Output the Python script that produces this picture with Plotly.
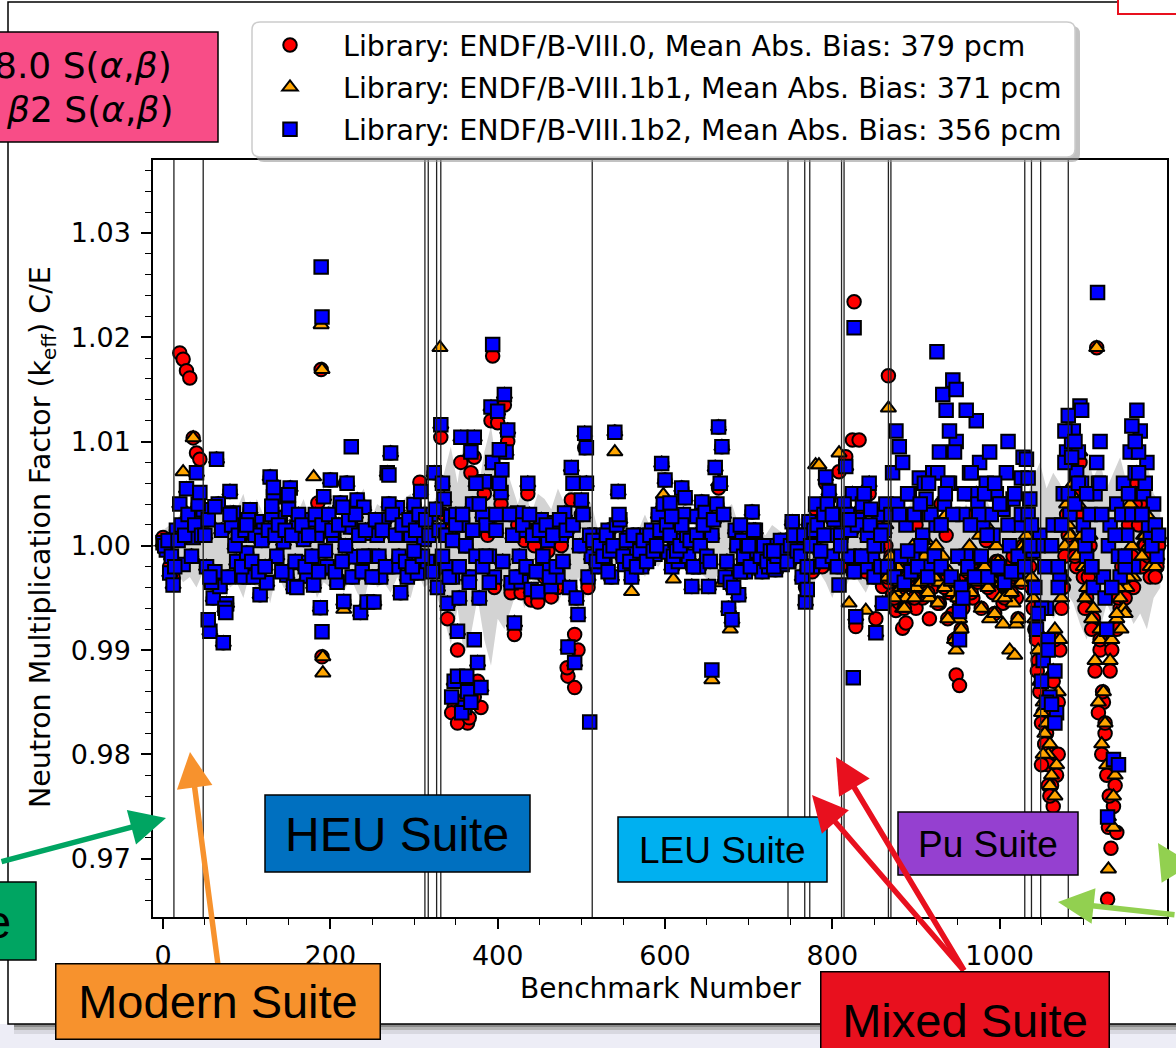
import numpy as np
import plotly.graph_objects as go

W, H = 1176, 1048
STEP = 4          # benchmark spacing of the read-off grids
CORE_OFFSET = 2   # second (core) grid sits between the first
GRAY_STEP = 8

# ---------------- data: C/E deviation from 1.0 in pcm ----------------
SEG_START = {"a": 0, "b": 48, "c": 332, "d": 512, "e": 760, "f": 864, "g": 1032}

# ENDF/B-VIII.1b2 (blue squares) - outer readings
b2_a = [30, -40, -260, -375, 150, 400, -180, 546, 250, 80, 700, 300]
b2_b = [345, -200, -820, -500, 830, -390, -930, -555, 520, 315,
        -150, 100, -300, -70, 345, -300, 230, -470, 150, -355,
        660, 470, -100, 270, 40, -280, 555, -390, 180, -160,
        60, -290, 250, -375, 100, -595, 470, -200, 630, 100,
        -350, 410, -535, 600, 180, -105, 440, -640, 370, -540,
        120, -540, 100, -300, 250, 700, 890, -200, 365, -450,
        200, -300, 100, 395, -260, 520, 60, -150, 300, 700, -400]
b2_c = [1160, 450, -550, 280, -1300, -820, 1040, -1550, -1400, 900,
        1040, -1120, -1360, 615, 200, 1330, -300, 1290, 510, 1450,
        1110, -355, -740, 315, -345, 150, 600, -420, 100, -440,
        250, -200, 50, -390, 220, -300, 100, 315, -970, 750,
        -1120, -660, 440, 1080, -300]
b2_d = [-100, 100, -200, 50, -150, 150, -300, 1090, 520, 0,
        -180, 80, -300, -50, 100, -200, 0, -120, 150, -80,
        300, 790, 630, -60, -200, 50, -150, 555, 460, -100,
        -390, 280, -200, 420, 320, -390, 100, 750, 1140, 950,
        -300, -600, -710, 150, -470, 50, -250, -100, 325, 150,
        -150, -250, -100, -200, 0, -230, -100, -180, 50, -150, 230, -100]
b2_e = [60, -300, -540, 230, -200, 400, 100, -150, 660, 520,
        -100, 300, -375, 200, 760, -100, 500, -680, 250, 400,
        -200, 600, -100, -835, 300, -550]
b2_f = [400, -200, 700, 1100, 950, 800, 200, 500, -100, 300,
        650, 100, 450, -200, 700, 200, 900, 1450, 1300, 600,
        1590, 1000, -630, 300, -100, 700, 500, 1200, 800, 200,
        600, 900, 100, 500, -200, 350, 700, 0, 450, -250, 200, 850]
b2_g = [830, 450, -50, -800, 100, -1100, -600, -1450, 200, -1600,
        -300, 500, 900, 300, 1100, 700, 1340, 200, -100, 300,
        -400, 800, 1000, -300, -800, 200, -2050, 400, -300, 600,
        100, 900, -200, 1300, 1100, 500, 800, 100, 400, -100]

# ENDF/B-VIII.1b2 - core readings (between the outer ones)
b2c_a = [0, 50, -100, -200, 50, 200, 100, 300, -100, 200, 400, 100]
b2c_b = [100, 250, -350, -250, 400, 150, -600, -300, 200, 0,
         100, -200, 150, 250, -150, 100, -250, 50, -200, 150,
         300, 100, 200, -250, 150, 350, 100, -150, 300, 200,
         -200, 100, -100, 300, -250, 200, -50, 300, 150, -250,
         200, -150, 0, 250, -300, 300, 100, -250, 150, -100,
         -300, 250, -100, 150, -200, 400, 300, 100, -100, 200,
         -150, 250, -200, 150, 300, -100, 250, 100, -250, 350, 150]
b2c_c = [600, -200, 100, -300, 300, -500, 200, 0, -300, 400,
         600, -500, 300, 200, -100, 800, 150, 600, -150, 900,
         300, 100, -300, -100, 200, -200, 300, 100, -250, 150,
         -100, 200, -300, 100, -200, 250, -150, 150, -400, 200,
         -500, 0, 300, 600, 100]
b2c_d = [50, -150, 0, -100, 100, -50, 0, 200, 250, -100,
         50, -150, 100, -200, -50, 50, -150, 100, -50, 0,
         150, 400, 200, 100, -100, -50, 0, 300, 100, 50,
         -200, 100, 0, 200, -100, -150, 250, 400, 600, 300,
         -150, -350, -400, 0, -250, -100, 0, -200, 150, -50,
         -100, 0, -150, -50, -200, -100, 50, -50, -150, 0, 100, -50]
b2c_e = [-100, 100, -200, 0, 150, 200, -50, 300, 400, 100,
         250, -200, 100, 400, 300, 150, -250, 200, -100, 500,
         100, 350, -300, 0, -200, 150]
b2c_f = [-200, 300, -300, 400, -100, -350, 500, -250, 300, -200,
         0, 600, -300, 300, -100, 700, -200, 400, 600, -300,
         900, -100, -400, 500, -200, 700, -300, 400, -100, 500,
         -300, 300, 600, -200, 400, -350, 200, -250, 500, -100, 300, -200]
b2c_g = [300, 200, -400, 0, -600, -200, -900, 0, -1200, -400,
         200, 800, 500, 1000, 400, 900, 600, 0, 100, -200,
         500, 600, 300, -500, 0, -400, 100, -100, 300, -200,
         500, 300, 700, 900, 300, 600, 200, 0, 200, 100]

b2_extra_x = [189, 190, 190, 225, 270, 132, 130, 62, 44, 80, 150, 215, 100, 160, 240, 300, 56, 75, 54,
              334, 338, 342, 346, 350, 354, 358, 362, 366, 370, 374, 378, 382,
              345, 352, 357, 363, 368, 372, 394, 506, 490, 510, 402, 405, 386, 390, 398,
              656, 532, 620, 700, 730, 545, 606, 608, 690,
              826, 825, 770, 790, 800, 810, 820, 835, 845, 850, 858,
              925, 948, 940, 952, 956, 944, 930, 960, 1026, 880, 890, 975, 1000, 1010, 905, 915, 935, 965, 985,
              1117, 1129, 1142, 1050, 1056, 1062, 1066, 1058, 1046, 1078, 1082, 1086, 1090, 1094, 1098,
              1158, 1162, 1166, 1034, 1036, 1070, 1104, 1110, 1120, 1150, 1170]
b2_extra_pcm = [2675, 2195, -825, 950, 680, 560, 380, 375, 510, 300, 490, 370, 200, -400, -100, -50, -300, -640, -710,
                -100, 100, -300, 50, 200, -200, 300, 0, -350, 150, -100, 400, -200,
                -1450, -1250, -1600, -1250, -1500, -900, 1930, 940, 600, -1690, 920, 730, -100, -350, 300,
                -1190, -250, 200, 0, -50, 300, 410, 280, 200,
                2090, -1265, -420, 100, 300, 0, 250, -100, 200, 0, 100,
                1860, 1500, 1100, -900, -500, 300, 200, 1300, 650, 300, -50, 300, 400, 1000, 400, 600, 500, 200, 100,
                2430, -2600, -2100, -1300, -1500, -1520, -1700, -1000, -650, 1100, 1250, 850, 1000, 600, 1300,
                1150, 1000, 700, 650, 0, -200, 500, -200, 600, -100, 300]

# ENDF/B-VIII.0 (red circles)
r_a = [80, -40, -200, -300, 150, 1850, 1790, 1680, 1610, 1035, 890, 830]
r_b = b2_b
r_c = [1040, 300, -700, 150, -1550, -1000, 800, -1650, -1700, 700,
       850, -1300, -1550, 500, 100, 1200, -400, 1180, 400, 1350,
       1000, -450, -850, 200, -450, 50, 500, -520, 0, -540,
       150, -300, -50, -490, 120, -400, 0, 200, -1250, 440,
       -1360, -1000, 300, 940, -400]
r_d = b2_d
r_e = [60, -300, -400, 200, -250, 350, 100, -200, 600, 450,
       -150, 250, 710, 150, 855, -200, 1015, -775, 1015, 350,
       -250, 500, -200, -700, 250, -390]
r_f = [0, -350, -470, -620, -545, -790, -740, -345, -200, -600,
       -300, -500, -150, -700, -400, -200, -550, -300, 100, -450,
       -650, -1240, -1340, -600, -300, -200, -500, 300, -100, -350,
       50, -250, -450, -150, -300, -550, -200, -400, -100, -500, -200, 0]
r_g = [0, -200, -600, -900, -1400, -1600, -1800, -2000, -1300, -2200,
       -1000, -400, 300, 0, 500, -200, 800, -300, -500, 0,
       -700, 1900, -1000, -1500, -2200, -1200, -2500, -800, -600, -300,
       -100, 300, -400, 600, 400, 0, 200, -300, 100, -200]
rc_f = [-300, -100, -500, -200, -400, -600, -300, -150, -500, -250,
        -350, -100, -450, -250, -300, -550, -200, -400, -700, -350,
        -900, -500, -800, -400, -250, -450, -150, -350, -600, -200,
        -400, -300, -650, -150, -350, -500, -250, -450, -300, -700, -350, -200]
rc_g = [-100, -400, -800, -1100, -1700, -1900, -2100, -2300, -900, -1500,
        -600, -100, 100, 400, -100, 300, 0, -600, -300, -800,
        -1200, -1600, -2000, -1800, -2700, -1000, -2300, -500, -200, -500,
        200, -100, 400, 200, -200, 0, -100, 100, -300, 0]
r_extra_x = [189, 190, 218, 307, 185, 394, 483, 492, 345, 352, 358, 366, 372, 664, 598, 826, 810,
             867, 900, 930, 960, 1129, 1133, 1140, 1050, 1058, 1064, 1070, 1060, 1123, 1126, 1131, 1120, 1045, 1054]
r_extra_pcm = [1690, -1065, 600, 610, 410, 1820, -1170, -850, -1600, -1700, -1500, -1650, -1450, 555, 300, 2340, -200,
               1630, 200, 400, 300, -3390, -2900, -2750, -2100, -2300, -2500, -2000, -2400, -1400, -1700, -2400, -900, -1200, -1900]

# ENDF/B-VIII.1b1 (orange triangles)
o_a = [30, -40, -260, -375, 150, 400, 710, 546, 250, 1035, 700, 300]
o_b = b2_b
o_c = b2_c
o_d = b2_d
o_e = [60, -300, -540, 230, -200, 775, 775, -150, 660, 520,
       -100, 300, 890, 200, 760, -550, 500, -680, 250, 400,
       -620, 600, -100, -835, 300, -550]
o_f = [200, -200, -300, -450, -350, -600, -500, -200, 0, -400,
       -150, -300, 50, -500, -200, 0, -350, -100, 300, -250,
       -450, -1000, -700, -400, -150, 0, -300, 500, 100, -200,
       200, -700, -300, 0, -500, -750, -400, -1000, -550, -750, -300, 0]
o_g = [100, -100, -500, -800, -1300, -1500, -1700, -1900, -1200, -2100,
       -900, -300, 400, 100, 600, -100, 900, -200, -400, 100,
       -600, 1900, -900, -1400, -2100, -1100, -2400, -700, -500, -600,
       -400, 400, -300, 700, 500, 100, 300, -200, 200, -100]
oc_f = rc_f   # orange core points sit on the red ones in the Pu suite
oc_g = [0, -300, -700, -1000, -1600, -1800, -2000, -2200, -800, -1400,
        -500, 0, 200, 500, 0, 400, 100, -500, -200, -700,
        -1100, -1500, -1900, -1700, -2600, -900, -2200, -400, -100, -650,
        -300, 0, 500, 300, -100, 100, 0, 200, -200, 100]
o_extra_x = [189, 190, 191, 191, 216, 180, 331, 420, 540, 560, 598, 656, 678, 664, 668, 610,
             867, 1018, 1130, 1136, 1052, 1060, 1066, 1120, 1140, 1145]
o_extra_pcm = [2120, 1690, -1065, -1220, -610, 660, 1900, -740, 900, -440, 490, -1285, -800, 610, -355, -320,
               1320, -1050, -3100, -2700, -2000, -2300, -2400, -800, -650, -800]

# grey band half-width (pcm) every GRAY_STEP benchmarks
gray_unc = [150, 200,
            250, 350, 300, 400, 250,
            300, 450, 250, 400, 350, 500, 250, 450, 300, 550, 250, 400, 450, 300, 450, 250, 500, 350,
            400, 250, 450, 300, 450, 550, 250, 400, 350, 450, 300, 450, 500, 250, 400, 350, 500,
            700, 950, 600, 1050, 850, 500, 900, 1150, 700, 800, 600,
            400, 600, 300, 500, 450, 350, 550, 400, 600, 300, 500, 400,
            150, 100, 200, 150, 250, 100, 150, 300, 150, 200, 100, 250, 150, 200, 150, 250,
            300, 400, 250, 350, 400, 200, 300, 200,
            150, 100, 200, 150, 100, 150, 250,
            300, 400, 250, 350, 500, 300, 400, 250, 350, 450, 300, 400, 350,
            300, 400, 250, 500, 350, 300, 450, 250, 400, 350, 300, 400, 250, 350, 450, 300, 250, 350, 400, 300,
            450, 650, 800, 550, 700, 600, 450,
            550, 750, 900, 650, 800, 550, 700, 850, 600, 750, 650, 800, 500, 400]

# suite boundaries (benchmark number)
suite_lines = [13, 48, 313, 317, 327, 332, 513, 747, 767, 773, 811, 814, 867, 870, 1030, 1038, 1049, 1082]

labels = ["Library: ENDF/B-VIII.0, Mean Abs. Bias: 379 pcm",
          "Library: ENDF/B-VIII.1b1, Mean Abs. Bias: 371 pcm",
          "Library: ENDF/B-VIII.1b2, Mean Abs. Bias: 356 pcm"]


def build(segs, ex_x, ex_pcm):
    xs, ys = [], []
    for key, vals, off in segs:
        xs.append(SEG_START[key] + off + STEP * np.arange(len(vals)))
        ys.append(1.0 + np.asarray(vals) / 1e5)
    xs.append(np.asarray(ex_x))
    ys.append(1.0 + np.asarray(ex_pcm) / 1e5)
    return np.concatenate(xs), np.concatenate(ys)


K = CORE_OFFSET
red_x, red_y = build([("a", r_a, 0), ("b", r_b, 0), ("c", r_c, 0), ("d", r_d, 0), ("e", r_e, 0),
                      ("f", r_f, 0), ("g", r_g, 0),
                      ("a", b2c_a, K), ("b", b2c_b, K), ("c", b2c_c, K), ("d", b2c_d, K), ("e", b2c_e, K),
                      ("f", rc_f, K), ("g", rc_g, K)], r_extra_x, r_extra_pcm)
org_x, org_y = build([("a", o_a, 0), ("b", o_b, 0), ("c", o_c, 0), ("d", o_d, 0), ("e", o_e, 0),
                      ("f", o_f, 0), ("g", o_g, 0),
                      ("a", b2c_a, K), ("b", b2c_b, K), ("c", b2c_c, K), ("d", b2c_d, K), ("e", b2c_e, K),
                      ("f", oc_f, K), ("g", oc_g, K)], o_extra_x, o_extra_pcm)
blu_x, blu_y = build([("a", b2_a, 0), ("b", b2_b, 0), ("c", b2_c, 0), ("d", b2_d, 0), ("e", b2_e, 0),
                      ("f", b2_f, 0), ("g", b2_g, 0),
                      ("a", b2c_a, K), ("b", b2c_b, K), ("c", b2c_c, K), ("d", b2c_d, K), ("e", b2c_e, K),
                      ("f", b2c_f, K), ("g", b2c_g, K)], b2_extra_x, b2_extra_pcm)

gx = GRAY_STEP * np.arange(len(gray_unc))
gu = np.asarray(gray_unc) / 1e5


def px(x):
    return x / W


def py(y):
    return 1 - y / H


fig = go.Figure()
fig.add_trace(go.Scatter(x=np.concatenate([gx, gx[::-1]]),
                         y=np.concatenate([1 + gu, (1 - gu)[::-1]]),
                         fill="toself", fillcolor="#D3D3D3", line=dict(width=0),
                         mode="lines", showlegend=False, hoverinfo="skip"))

for (xx, yy, col, sym, lab, grp) in [(red_x, red_y, "#FF0000", "circle", labels[0], "g0"),
                                      (org_x, org_y, "#FFA500", "triangle-up", labels[1], "g1"),
                                      (blu_x, blu_y, "#0000FF", "square", labels[2], "g2")]:
    fig.add_trace(go.Scatter(x=xx, y=yy, mode="markers", name=lab, legendgroup=grp,
                             marker=dict(symbol=sym, size=13.5, color=col,
                                         line=dict(color="black", width=2))))

DEJ = "DejaVu Sans"
ARI = "Liberation Sans"

shapes = []
shapes.append(dict(type="rect", xref="paper", yref="paper", x0=px(-20), x1=px(1300), y0=py(1024), y1=py(1060),
                   fillcolor="#EDEDF6", line=dict(width=0), layer="below"))
for y0, y1, c in [(1024, 1027, "#8a8a8a"), (1027, 1030, "#b5b5b5"), (1030, 1034, "#d8d8e0")]:
    shapes.append(dict(type="rect", xref="paper", yref="paper", x0=px(14), x1=px(1300), y0=py(y1), y1=py(y0),
                       fillcolor=c, line=dict(width=0), layer="below"))
shapes.append(dict(type="rect", xref="paper", yref="paper", x0=px(8), x1=px(1300), y0=py(1024), y1=py(2),
                   fillcolor="white", line=dict(color="black", width=1.5), layer="below"))
# partially visible box at the top-right corner
shapes.append(dict(type="rect", xref="paper", yref="paper", x0=px(1118), x1=px(1220), y0=py(14), y1=py(-20),
                   fillcolor="white", line=dict(color="#E8101E", width=2), layer="above"))
for s in suite_lines:
    shapes.append(dict(type="line", xref="x", yref="y domain", x0=s, x1=s, y0=0, y1=1,
                       line=dict(color="#222222", width=1.3), layer="above"))
shapes.append(dict(type="line", xref="x domain", yref="y", x0=0, x1=1, y0=1.0, y1=1.0,
                   line=dict(color="#333333", width=1), layer="below"))


def rounded(x0, y0, x1, y1, r):
    X0, X1 = px(x0), px(x1)
    return (f"M {px(x0 + r)},{py(y0)} L {px(x1 - r)},{py(y0)} Q {X1},{py(y0)} {X1},{py(y0 + r)} "
            f"L {X1},{py(y1 - r)} Q {X1},{py(y1)} {px(x1 - r)},{py(y1)} L {px(x0 + r)},{py(y1)} "
            f"Q {X0},{py(y1)} {X0},{py(y1 - r)} L {X0},{py(y0 + r)} Q {X0},{py(y0)} {px(x0 + r)},{py(y0)} Z")


shapes.append(dict(type="path", xref="paper", yref="paper", path=rounded(256, 26, 1080, 162, 8),
                   fillcolor="#9a9a9a", line=dict(width=0), layer="above", opacity=0.6))
shapes.append(dict(type="path", xref="paper", yref="paper", path=rounded(252, 22, 1075, 157, 8),
                   fillcolor="white", line=dict(color="#CCCCCC", width=1.5), layer="above"))

boxes = [(-60, 32, 218, 142, "#F84D87"),
         (-60, 882, 36, 960, "#00A562"),
         (265, 795, 530, 872, "#0070C0"),
         (618, 817, 827, 882, "#00B0F0"),
         (898, 812, 1078, 875, "#9540D0")]
for x0, y0, x1, y1, c in boxes:
    shapes.append(dict(type="rect", xref="paper", yref="paper", x0=px(x0), x1=px(x1), y0=py(y1), y1=py(y0),
                       fillcolor=c, line=dict(color="black", width=1.5), layer="above"))

ann = []
arrows = [((166, 818), (-40, 862), "#00A562"),
          ((190, 752), (218, 965), "#F7922D"),
          ((812, 795), (965, 972), "#E8101E"),
          ((836, 757), (965, 972), "#E8101E"),
          ((1058, 902), (1200, 915), "#92D050"),
          ((1158, 843), (1200, 872), "#92D050")]
for (tx, ty), (sx, sy), c in arrows:
    ann.append(dict(x=px(tx), y=py(ty), xref="paper", yref="paper", text="", showarrow=True,
                    ax=sx - tx, ay=sy - ty, arrowcolor=c, arrowwidth=5.5, arrowhead=2, arrowsize=1.3,
                    standoff=0, startstandoff=0))

for (x0, y0, x1, y1, c, txt, fs) in [(55, 963, 381, 1040, "#F7922D", "Modern Suite", 47),
                                      (820, 971, 1110, 1070, "#E8101E", "Mixed Suite", 47)]:
    ann.append(dict(x=px((x0 + x1) / 2), y=py((y0 + y1) / 2), xref="paper", yref="paper",
                    text=txt, showarrow=False, font=dict(family=ARI, size=fs, color="black"),
                    bgcolor=c, bordercolor="black", borderwidth=1.5, borderpad=0,
                    width=x1 - x0 - 3, height=y1 - y0 - 3, xanchor="center", yanchor="middle"))

for (cx, cy, txt, fs) in [(397, 834, "HEU Suite", 48), (722, 850, "LEU Suite", 37), (988, 844, "Pu Suite", 37)]:
    ann.append(dict(x=px(cx), y=py(cy), xref="paper", yref="paper", text=txt, showarrow=False,
                    font=dict(family=ARI, size=fs, color="black"), xanchor="center", yanchor="middle"))
ann.append(dict(x=px(13), y=py(921), xref="paper", yref="paper", text="e", showarrow=False,
                font=dict(family=ARI, size=47, color="black"), xanchor="right", yanchor="middle"))
ann.append(dict(x=px(174), y=py(66), xref="paper", yref="paper",
                text="8.0 S(<i>α</i>,<i>β</i>)", showarrow=False,
                font=dict(family=DEJ, size=36, color="black"), xanchor="right", yanchor="middle"))
ann.append(dict(x=px(175), y=py(110), xref="paper", yref="paper",
                text="<i>β</i>2 S(<i>α</i>,<i>β</i>)", showarrow=False,
                font=dict(family=DEJ, size=36, color="black"), xanchor="right", yanchor="middle"))
ann.append(dict(x=px(42), y=py(537), xref="paper", yref="paper", textangle=-90,
                text="Neutron Multiplication Factor (k<sub>eff</sub>) C/E", showarrow=False,
                font=dict(family=DEJ, size=28.5, color="black"), xanchor="center", yanchor="middle"))
ann.append(dict(x=px(660), y=py(988), xref="paper", yref="paper",
                text="Benchmark Number", showarrow=False,
                font=dict(family=DEJ, size=28, color="black"), xanchor="center", yanchor="middle"))

fig.update_layout(
    width=W, height=H, margin=dict(l=0, r=0, t=0, b=0),
    paper_bgcolor="white", plot_bgcolor="white",
    font=dict(family=DEJ, size=27, color="black"),
    shapes=shapes, annotations=ann,
    showlegend=True,
    legend=dict(x=px(237), y=py(20), xanchor="left", yanchor="top", bgcolor="rgba(0,0,0,0)",
                borderwidth=0, font=dict(family=DEJ, size=28.5, color="black"),
                tracegroupgap=2, itemwidth=96, traceorder="grouped"),
    xaxis=dict(domain=[px(153), px(1167)], range=[-12, 1200], tickvals=[0, 200, 400, 600, 800, 1000],
               ticks="outside", ticklen=10, tickwidth=1.5, tickcolor="black", ticklabelstandoff=4,
               minor=dict(dtick=50, tick0=0, ticks="outside", ticklen=6, tickwidth=1.2, tickcolor="black"),
               showline=True, linecolor="black", linewidth=1.5, mirror=True, showgrid=False, zeroline=False,
               automargin=False, tickfont=dict(family=DEJ, size=27)),
    yaxis=dict(domain=[py(917), py(160)], range=[0.9644, 1.0370], tick0=0.97, dtick=0.01, tickformat=".2f",
               ticks="outside", ticklen=10, tickwidth=1.5, tickcolor="black", ticklabelstandoff=5,
               minor=dict(dtick=0.002, tick0=0.97, ticks="outside", ticklen=6, tickwidth=1.2, tickcolor="black"),
               showline=True, linecolor="black", linewidth=1.5, mirror=True, showgrid=False, zeroline=False,
               automargin=False, tickfont=dict(family=DEJ, size=27)),
)

fig.write_html("out.html")
